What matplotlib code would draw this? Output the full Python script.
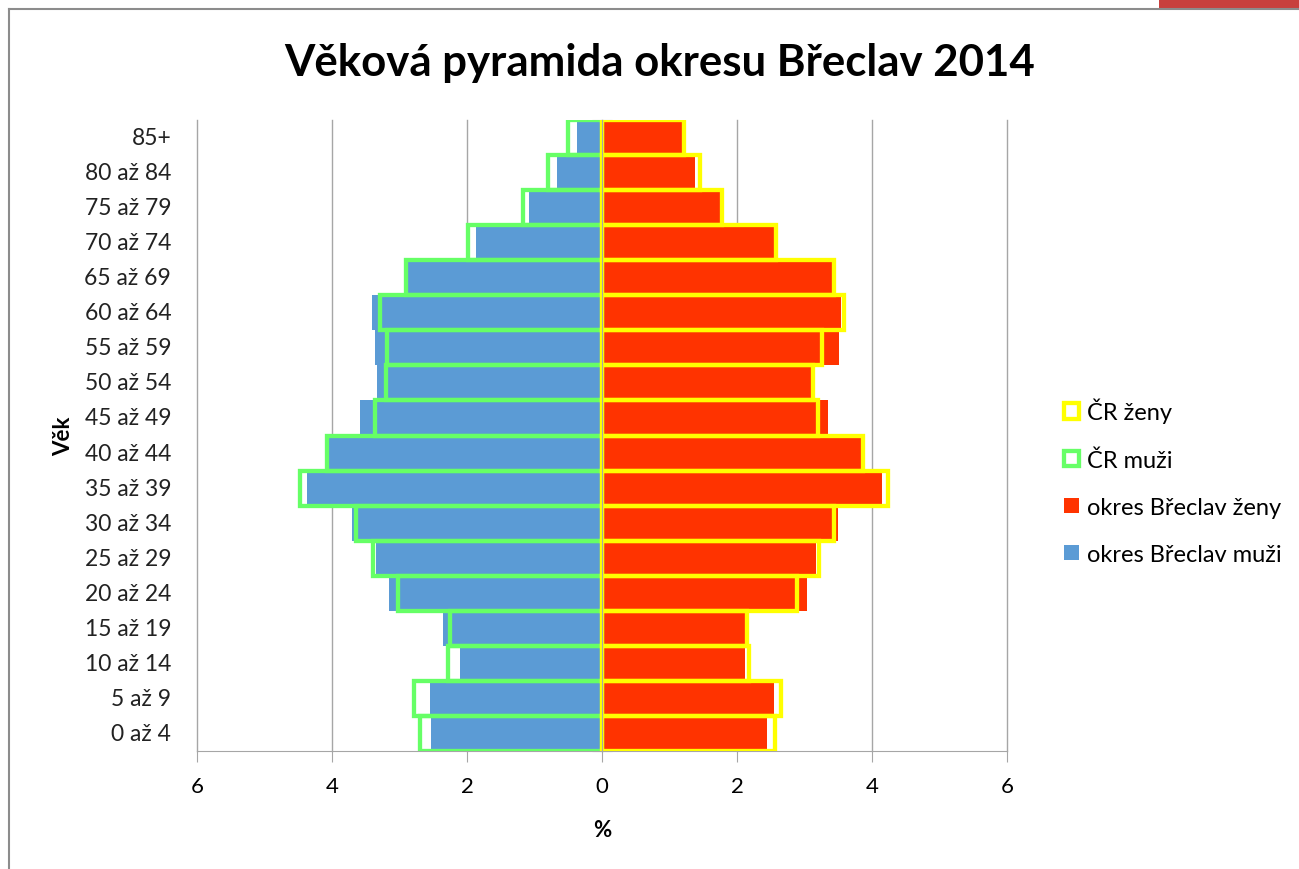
import numpy as np
import matplotlib
matplotlib.use("Agg")
import matplotlib.pyplot as plt
from matplotlib.patches import Rectangle
from matplotlib.lines import Line2D

plt.rcParams['font.family'] = ['Lato', 'DejaVu Sans']

# Data (youngest group first, drawn bottom to top)
ages = ["0 až 4", "5 až 9", "10 až 14", "15 až 19", "20 až 24", "25 až 29",
        "30 až 34", "35 až 39", "40 až 44", "45 až 49", "50 až 54", "55 až 59",
        "60 až 64", "65 až 69", "70 až 74", "75 až 79", "80 až 84", "85+"]
breclav_men = [2.53, 2.55, 2.10, 2.36, 3.16, 3.35, 3.71, 4.37, 4.05, 3.58,
               3.33, 3.37, 3.41, 2.87, 1.87, 1.09, 0.67, 0.37]
breclav_women = [2.45, 2.54, 2.11, 2.11, 3.03, 3.17, 3.49, 4.15, 3.83, 3.34,
                 3.09, 3.51, 3.54, 3.40, 2.54, 1.74, 1.37, 1.18]
cr_men = [2.70, 2.79, 2.29, 2.25, 3.03, 3.39, 3.65, 4.47, 4.08, 3.37,
          3.20, 3.18, 3.29, 2.91, 1.99, 1.17, 0.80, 0.50]
cr_women = [2.56, 2.65, 2.17, 2.14, 2.88, 3.22, 3.43, 4.23, 3.86, 3.20,
            3.13, 3.26, 3.58, 3.43, 2.58, 1.77, 1.45, 1.22]
x_ticks = [-6, -4, -2, 0, 2, 4, 6]

grey = '#A6A6A6'

fig = plt.figure(figsize=(12.99, 8.70), dpi=100)
ax = fig.add_axes([0.1517, 0.1356, 0.6236, 0.7253])

y = np.arange(len(ages))
b_men = ax.barh(y, -np.array(breclav_men), height=1.0, color='#5B9BD5', zorder=2)
b_women = ax.barh(y, breclav_women, height=1.0, color='#FF3300', zorder=2)
c_men = ax.barh(y, -np.array(cr_men), height=1.0, fill=False,
                edgecolor='#66FF66', linewidth=3.1, zorder=3)
c_women = ax.barh(y, cr_women, height=1.0, fill=False,
                  edgecolor='#FFFF00', linewidth=3.1, zorder=3)

ax.set_xlim(-6, 6)
ax.set_ylim(-0.5, len(ages) - 0.5)
ax.set_xticks(x_ticks)
ax.set_xticklabels([str(abs(t)) for t in x_ticks], fontsize=16)
ax.tick_params(axis='x', direction='out', length=8, color=grey, pad=10)
ax.grid(axis='x', color=grey, linewidth=1.0)
for gl in ax.get_xgridlines():
    gl.set_clip_on(False)
ax.set_axisbelow(True)

# zero axis with category separators
ax.spines['left'].set_position(('data', 0))
ax.spines['left'].set_color(grey)
ax.spines['left'].set_zorder(5)
ax.spines['bottom'].set_color(grey)
ax.spines['top'].set_visible(False)
ax.spines['right'].set_visible(False)
ax.set_yticks(np.arange(-0.5, len(ages), 1))
ax.tick_params(axis='y', direction='inout', length=14, color=grey,
               labelleft=False)
for i, lab in enumerate(ages):
    ax.text(-0.032, i, lab, transform=ax.get_yaxis_transform(),
            ha='right', va='center', fontsize=16.5, color='#222222')

ax.set_xlabel('%', fontsize=16, fontweight='bold')
ax.xaxis.set_label_coords(0.5, -0.108)
ax.set_ylabel('Věk', fontsize=16, fontweight='bold')
ax.yaxis.set_label_coords(-0.152, 0.5)

fig.text(0.508, 0.928, 'Věková pyramida okresu Břeclav 2014', ha='center',
         va='center', fontsize=31.5, fontweight='bold')

fig.legend([c_women, c_men, b_women, b_men],
           ['ČR ženy', 'ČR muži', 'okres Břeclav ženy', 'okres Břeclav muži'],
           loc='upper left', bbox_to_anchor=(1052 / 1299, 1 - 387 / 870),
           frameon=False, fontsize=17, handlelength=0.65, handleheight=0.65,
           handletextpad=0.35, labelspacing=1.1, borderpad=0)

# screenshot frame
fig.add_artist(Line2D([8.5 / 1299, 8.5 / 1299], [0, 1 - 9.5 / 870],
                      transform=fig.transFigure, color='#8C8C8C', lw=1.5))
fig.add_artist(Line2D([8.5 / 1299, 1], [1 - 9.5 / 870, 1 - 9.5 / 870],
                      transform=fig.transFigure, color='#8C8C8C', lw=1.5))
fig.add_artist(Rectangle((1159 / 1299, 1 - 9 / 870), 140 / 1299, 9 / 870,
                         transform=fig.transFigure, color='#C8403D', lw=0))

fig.savefig('out.png', dpi=100)
